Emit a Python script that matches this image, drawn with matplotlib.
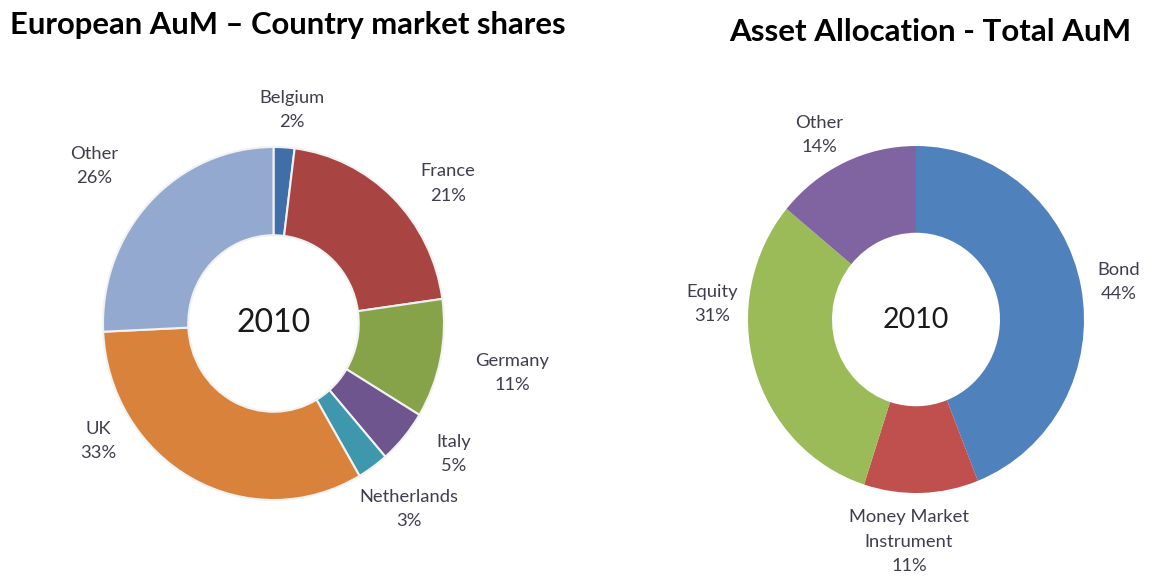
"""Two 2010 donut charts: European AuM by country and asset allocation."""

import matplotlib

matplotlib.use("Agg")
import matplotlib.pyplot as plt

plt.rcParams["font.family"] = ["Lato", "DejaVu Sans"]

W, H = 1152, 576

# left chart: country market shares (%)
countries = ["Belgium", "France", "Germany", "Italy", "Netherlands", "UK", "Other"]
country_share = [2, 21, 11, 5, 3, 33, 26]
country_colors = ["#3F6EA8", "#A84442", "#86A34A", "#6E558E", "#3F97AD", "#D9823C", "#93A9CF"]

# right chart: asset allocation (%)
assets = ["Bond", "Money Market\nInstrument", "Equity", "Other"]
asset_share = [44, 11, 31, 14]
asset_colors = ["#4F81BD", "#C0504D", "#9BBB59", "#8064A2"]

year = "2010"

# label anchors in units of the outer radius (layout only)
country_label_pos = [(0.109, 1.210), (1.023, 0.793), (1.399, -0.280), (1.059, -0.739),
                     (0.795, -1.051), (-1.029, -0.666), (-1.053, 0.892)]
asset_label_pos = [(1.208, 0.216), (-0.042, -1.280), (-1.214, 0.089), (-0.577, 1.063)]

LABEL_COLOR = "#3E3E4E"


def donut(rect, center, rx, ry, values, colors, names, label_pos, edge, year_size):
    ax = fig.add_axes(rect)
    x0, y0, w, h = rect[0] * W, rect[1] * H, rect[2] * W, rect[3] * H
    cx, cy = center[0], H - center[1]
    ax.pie(values, colors=colors, startangle=90, counterclock=False,
           wedgeprops=dict(width=0.5, edgecolor=edge, linewidth=1.5 if edge else 0))
    ax.set_aspect("auto")
    ax.set_xlim(-(cx - x0) / rx, (x0 + w - cx) / rx)
    ax.set_ylim(-(cy - y0) / ry, (y0 + h - cy) / ry)
    ax.axis("off")
    for name, val, (lx, ly) in zip(names, values, label_pos):
        ax.text(lx, ly, f"{name}\n{val}%", ha="center", va="center", fontsize=13.2,
                color=LABEL_COLOR, linespacing=1.65)
    ax.text(0, 0, year, ha="center", va="center", fontsize=year_size, color="#1a1a1a")
    return ax


fig = plt.figure(figsize=(W / 100, H / 100), dpi=100)

donut([0, 0, 0.5, 1], (273.5, 323.5), 170.5, 176.5, country_share, country_colors,
      countries, country_label_pos, "#F2F2F2", 23)
donut([0.5, 0, 0.5, 1], (916, 319.5), 168, 173.5, asset_share, asset_colors,
      assets, asset_label_pos, None, 20.5)

fig.text(10 / W, 1 - 25 / H, "European AuM \u2013 Country market shares", ha="left",
         va="center", fontsize=22.3, fontweight="bold", color="black")
fig.text(930 / W, 1 - 32 / H, "Asset Allocation - Total AuM", ha="center",
         va="center", fontsize=22.5, fontweight="bold", color="black")

fig.savefig("out.png", dpi=100, facecolor="white")
